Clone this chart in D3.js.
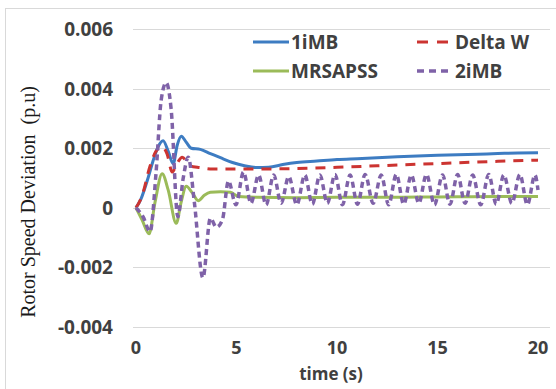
<!DOCTYPE html>
<html>
<head>
<meta charset="utf-8">
<script src="https://cdn.jsdelivr.net/npm/d3@7"></script>
<style>
  body { margin: 0; background: #fff; }
  svg { display: block; }
</style>
</head>
<body>
<div id="chart"></div>
<script>
// Eixos
const yTicks = [-0.004, -0.002, 0, 0.002, 0.004, 0.006];
const yTickLabels = ["-0.004", "-0.002", "0", "0.002", "0.004", "0.006"];
const xTicks = [0, 5, 10, 15, 20];

// Séries (tempo em s, desvio em p.u)
const iMB1T = [0, 0.25, 0.6, 0.85, 1.1, 1.35, 1.6, 1.85, 2.05, 2.25, 2.5, 2.75, 3.2, 3.7, 4.2, 4.8, 5.4, 6.0, 6.6, 7.3, 8, 9, 10, 11, 12, 13, 14, 15, 16, 17, 18, 19, 20];
const iMB1V = [0, 0.0003, 0.001, 0.00158, 0.00205, 0.00225, 0.0019, 0.00148, 0.0021, 0.0024, 0.0022, 0.002, 0.00196, 0.00182, 0.00168, 0.00152, 0.00141, 0.00135, 0.00136, 0.00145, 0.00152, 0.00157, 0.00162, 0.00165, 0.00168, 0.00171, 0.00174, 0.00176, 0.00178, 0.0018, 0.00182, 0.00184, 0.00185];

const deltaWT = [0, 0.3, 0.7, 1.0, 1.3, 1.55, 1.8, 2.05, 2.3, 2.7, 3.2, 3.8, 4.5, 6, 8, 10, 12, 14, 16, 18, 20];
const deltaWV = [0, 0.0004, 0.0014, 0.0019, 0.00205, 0.0018, 0.0012, 0.0015, 0.0017, 0.0014, 0.00135, 0.0013, 0.0013, 0.0013, 0.00132, 0.00136, 0.00141, 0.00146, 0.00151, 0.00156, 0.0016];

const mrsT = [0, 0.3, 0.65, 0.95, 1.3, 1.6, 2.0, 2.25, 2.5, 2.8, 3.1, 3.4, 3.7, 4.2, 4.7, 5.1, 6, 8, 10, 12, 14, 16, 18, 20];
const mrsV = [0, -0.0004, -0.00087, 0.0002, 0.00114, 0.0006, -0.00052, 0.0002, 0.00072, 0.0005, 0.00024, 0.00042, 0.00052, 0.00054, 0.00052, 0.00038, 0.00035, 0.00034, 0.00035, 0.00035, 0.00036, 0.00037, 0.00038, 0.00038];

const iMB2T = [0, 0.35, 0.7, 1.0, 1.25, 1.5, 1.75, 2.08, 2.35, 2.6, 2.9, 3.33, 3.7, 4.0, 4.3,
  4.6, 4.97, 5.35, 5.72, 6.1, 6.47, 6.85, 7.22, 7.6, 8.0, 8.4, 8.77, 9.15, 9.52, 9.9, 10.27,
  10.65, 11.02, 11.4, 11.8, 12.2, 12.57, 12.95, 13.32, 13.7, 14.07, 14.45, 14.85, 15.25, 15.62,
  16.0, 16.37, 16.75, 17.15, 17.55, 17.92, 18.3, 18.7, 19.1, 19.47, 19.85, 20];
const iMB2V = [0, -0.0003, -0.0008, 0.0012, 0.0036, 0.0042, 0.0033, -0.0003, 0.001, 0.0017, 0.0002, -0.00235, -0.00035, -0.00065, -0.0004,
  0.0009, 0.0001, 0.0012, 0.00015, 0.0011, 0.0001, 0.0011, 0.00015, 0.00105, 0.0001, 0.0011, 0.00012, 0.0011, 0.00015, 0.00112, 0.0001,
  0.0011, 0.00012, 0.00112, 0.00015, 0.0011, 0.0001, 0.00112, 0.00012, 0.0011, 0.00015, 0.00112, 0.0001,
  0.0011, 0.00012, 0.00112, 0.00015, 0.0011, 0.0001, 0.00112, 0.00012, 0.0011, 0.00015, 0.00112, 0.0001, 0.0011, 0.0006];

const series = [
  { name: "1iMB", t: iMB1T, v: iMB1V, color: "#3d7cc2", width: 3, dash: null },
  { name: "Delta W", t: deltaWT, v: deltaWV, color: "#cc3431", width: 3, dash: "10,8" },
  { name: "MRSAPSS", t: mrsT, v: mrsV, color: "#9bbb59", width: 3, dash: null },
  { name: "2iMB", t: iMB2T, v: iMB2V, color: "#7f62a8", width: 3.5, dash: "6,4" }
];

const W = 556, H = 389;
const textColor = "#404040";
const font = "'Open Sans', sans-serif";

const svg = d3.select("#chart").append("svg")
  .attr("width", W)
  .attr("height", H);

// Borda da área do gráfico
svg.append("rect")
  .attr("x", 5.5).attr("y", 8.5)
  .attr("width", 600).attr("height", 400)
  .attr("fill", "#fff")
  .attr("stroke", "#d9d9d9");

// Escalas
const x = d3.scaleLinear().domain([0, 20]).range([136, 538]);
const y = d3.scaleLinear().domain([-0.004, 0.006]).range([327, 29]);

// Grid em Y
svg.append("g")
  .selectAll("line")
  .data(yTicks)
  .enter()
  .append("line")
  .attr("x1", 133).attr("x2", 550)
  .attr("y1", d => Math.round(y(d)) + 0.5)
  .attr("y2", d => Math.round(y(d)) + 0.5)
  .attr("stroke", "#d9d9d9")
  .attr("stroke-width", 1);

// Labels Y
svg.append("g")
  .selectAll("text")
  .data(yTicks)
  .enter()
  .append("text")
  .attr("x", 113)
  .attr("y", d => y(d) + 7)
  .attr("text-anchor", "end")
  .attr("font-family", font)
  .attr("font-weight", "bold")
  .attr("font-size", "19px")
  .attr("fill", textColor)
  .text((d, i) => yTickLabels[i]);

// Labels X
svg.append("g")
  .selectAll("text")
  .data(xTicks)
  .enter()
  .append("text")
  .attr("x", d => x(d))
  .attr("y", 354)
  .attr("text-anchor", "middle")
  .attr("font-family", font)
  .attr("font-weight", "bold")
  .attr("font-size", "18px")
  .attr("fill", textColor)
  .text(d => d);

// Títulos dos eixos
svg.append("text")
  .attr("x", 331)
  .attr("y", 380)
  .attr("text-anchor", "middle")
  .attr("font-family", font)
  .attr("font-weight", "bold")
  .attr("font-size", "17px")
  .attr("fill", textColor)
  .text("time (s)");

svg.append("text")
  .attr("transform", "translate(35,202) rotate(-90)")
  .attr("text-anchor", "middle")
  .attr("font-family", "'Liberation Serif', 'Times New Roman', serif")
  .attr("font-size", "20px")
  .attr("fill", "#1a1a1a")
  .attr("xml:space", "preserve")
  .text("Rotor Speed Deviation  (p.u)");

// Linhas
const line = d3.line()
  .x(d => x(d[0]))
  .y(d => y(d[1]))
  .curve(d3.curveMonotoneX);

series.forEach(s => {
  const pts = s.t.map((t, i) => [t, s.v[i]]);
  svg.append("path")
    .datum(pts)
    .attr("d", line)
    .attr("fill", "none")
    .attr("stroke", s.color)
    .attr("stroke-width", s.width)
    .attr("stroke-dasharray", s.dash)
    .attr("stroke-linejoin", "round");
});

// Legenda
const legendPos = [
  { x: 253, y: 42 },
  { x: 417, y: 42 },
  { x: 253, y: 71 },
  { x: 417, y: 71 }
];

series.forEach((s, i) => {
  const p = legendPos[i];
  const g = svg.append("g").attr("transform", `translate(${p.x},${p.y})`);
  g.append("line")
    .attr("x1", 0).attr("x2", 36)
    .attr("y1", 0).attr("y2", 0)
    .attr("stroke", s.color)
    .attr("stroke-width", s.width)
    .attr("stroke-dasharray", s.dash === "10,8" ? "11,9" : s.dash === "6,4" ? "7,5" : null);
  g.append("text")
    .attr("x", 38)
    .attr("y", 7)
    .attr("font-family", font)
    .attr("font-weight", "bold")
    .attr("font-size", "19px")
    .attr("fill", textColor)
    .text(s.name);
});
</script>
</body>
</html>
